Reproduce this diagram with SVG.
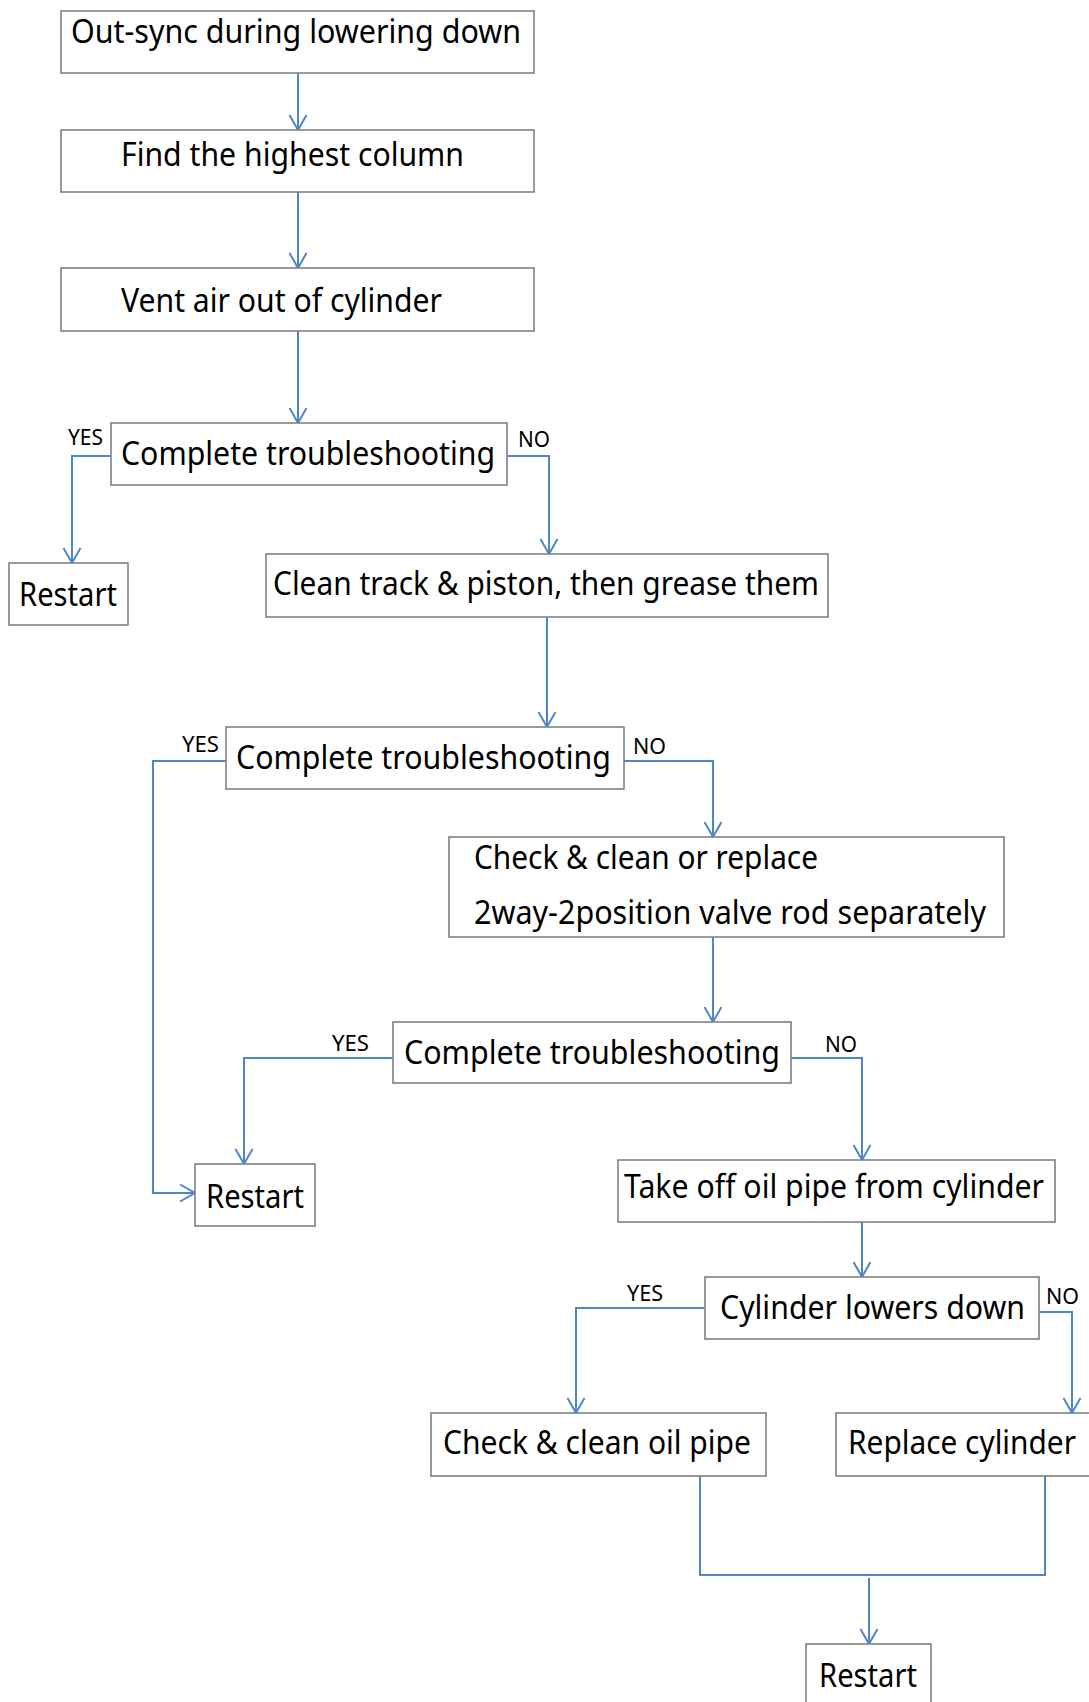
<svg xmlns="http://www.w3.org/2000/svg" width="1089" height="1702" viewBox="0 0 1089 1702">
<style>
.box{fill:#fff;stroke:#808080;stroke-width:1.6}
.t{font-family:"Noto Sans","Liberation Sans",sans-serif;font-size:32px;fill:#000}
.l{font-family:"Noto Sans","Liberation Sans",sans-serif;font-size:22px;fill:#000}
.c{fill:none;stroke:#4f86c6;stroke-width:2;marker-end:url(#ah)}
.cn{fill:none;stroke:#4f86c6;stroke-width:2}
</style>
<defs>
<marker id="ah" markerUnits="userSpaceOnUse" viewBox="-17 -10 19 20" markerWidth="19" markerHeight="20" refX="0" refY="0" orient="auto" overflow="visible">
<path d="M-15,-8.5 L0,0 L-15,8.5" fill="none" stroke="#4f86c6" stroke-width="2"/>
</marker>
</defs>
<rect width="1089" height="1702" fill="#fff"/>
<g id="connectors">
<path class="c" d="M298,73 V130"/>
<path class="c" d="M298,192 V268"/>
<path class="c" d="M298,331 V423"/>
<path class="c" d="M111,456 H72 V563"/>
<path class="c" d="M507,456 H549 V554"/>
<path class="c" d="M547,617 V727"/>
<path class="c" d="M226,761 H153 V1193 H195"/>
<path class="c" d="M624,761 H713 V837"/>
<path class="c" d="M713,937 V1022"/>
<path class="c" d="M393,1058 H244 V1164"/>
<path class="c" d="M791,1058 H862 V1160"/>
<path class="c" d="M862,1222 V1277"/>
<path class="c" d="M704,1308 H576 V1413"/>
<path class="c" d="M1038,1312 H1072 V1413"/>
<path class="cn" d="M700,1476 V1575 H1045 V1476"/>
<path class="c" d="M869,1578 V1644"/>
<text class="l" x="68" y="445" textLength="35" lengthAdjust="spacingAndGlyphs">YES</text>
<text class="l" x="518" y="447" textLength="32" lengthAdjust="spacingAndGlyphs">NO</text>
<text class="l" x="182" y="752" textLength="37" lengthAdjust="spacingAndGlyphs">YES</text>
<text class="l" x="633" y="754" textLength="33" lengthAdjust="spacingAndGlyphs">NO</text>
<text class="l" x="332" y="1051" textLength="37" lengthAdjust="spacingAndGlyphs">YES</text>
<text class="l" x="825" y="1052" textLength="32" lengthAdjust="spacingAndGlyphs">NO</text>
<text class="l" x="627" y="1301" textLength="36" lengthAdjust="spacingAndGlyphs">YES</text>
<text class="l" x="1046" y="1304" textLength="33" lengthAdjust="spacingAndGlyphs">NO</text>
</g>
<g id="n1"><rect class="box" x="61" y="11" width="473" height="62"/><text class="t" x="71" y="43" textLength="450" lengthAdjust="spacingAndGlyphs">Out-sync during lowering down</text></g>
<g id="n2"><rect class="box" x="61" y="130" width="473" height="62"/><text class="t" x="121" y="166" textLength="343" lengthAdjust="spacingAndGlyphs">Find the highest column</text></g>
<g id="n3"><rect class="box" x="61" y="268" width="473" height="63"/><text class="t" x="121" y="312" textLength="321" lengthAdjust="spacingAndGlyphs">Vent air out of cylinder</text></g>
<g id="n4"><rect class="box" x="111" y="423" width="396" height="62"/><text class="t" x="121" y="465" textLength="374" lengthAdjust="spacingAndGlyphs">Complete troubleshooting</text></g>
<g id="n5"><rect class="box" x="9" y="563" width="119" height="62"/><text class="t" x="19" y="606" textLength="98" lengthAdjust="spacingAndGlyphs">Restart</text></g>
<g id="n6"><rect class="box" x="266" y="554" width="562" height="63"/><text class="t" x="273" y="595" textLength="546" lengthAdjust="spacingAndGlyphs">Clean track &amp; piston, then grease them</text></g>
<g id="n7"><rect class="box" x="226" y="727" width="398" height="62"/><text class="t" x="236" y="769" textLength="375" lengthAdjust="spacingAndGlyphs">Complete troubleshooting</text></g>
<g id="n8"><rect class="box" x="449" y="837" width="555" height="100"/><text class="t" x="474" y="869" textLength="344" lengthAdjust="spacingAndGlyphs">Check &amp; clean or replace</text><text class="t" x="474" y="924" textLength="512" lengthAdjust="spacingAndGlyphs">2way-2position valve rod separately</text></g>
<g id="n9"><rect class="box" x="393" y="1022" width="398" height="61"/><text class="t" x="404" y="1064" textLength="376" lengthAdjust="spacingAndGlyphs">Complete troubleshooting</text></g>
<g id="n10"><rect class="box" x="195" y="1164" width="120" height="62"/><text class="t" x="206" y="1208" textLength="98" lengthAdjust="spacingAndGlyphs">Restart</text></g>
<g id="n11"><rect class="box" x="618" y="1160" width="437" height="62"/><text class="t" x="624" y="1198" textLength="420" lengthAdjust="spacingAndGlyphs">Take off oil pipe from cylinder</text></g>
<g id="n12"><rect class="box" x="705" y="1277" width="334" height="62"/><text class="t" x="720" y="1319" textLength="305" lengthAdjust="spacingAndGlyphs">Cylinder lowers down</text></g>
<g id="n13"><rect class="box" x="431" y="1413" width="335" height="63"/><text class="t" x="443" y="1454" textLength="308" lengthAdjust="spacingAndGlyphs">Check &amp; clean oil pipe</text></g>
<g id="n14"><rect class="box" x="836" y="1413" width="262" height="63"/><text class="t" x="848" y="1454" textLength="228" lengthAdjust="spacingAndGlyphs">Replace cylinder</text></g>
<g id="n15"><rect class="box" x="806" y="1644" width="125" height="70"/><text class="t" x="819" y="1687" textLength="98" lengthAdjust="spacingAndGlyphs">Restart</text></g>
</svg>
